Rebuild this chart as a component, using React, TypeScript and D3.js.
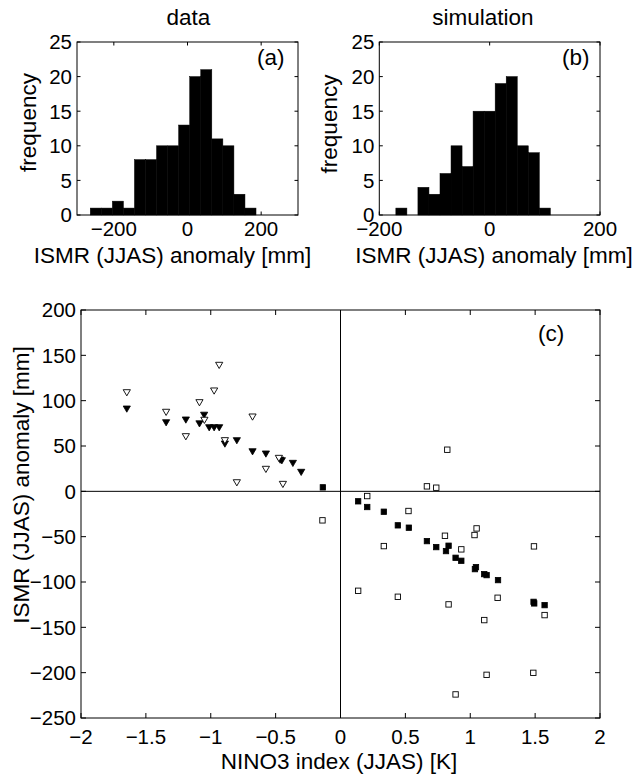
import React from "react";
import * as d3 from "d3";

// ---------- data ----------
// histogram (a): observed ISMR anomalies
const histAStart = -264;
const histAWidth = 30;
const histACounts = [1, 1, 2, 1, 8, 8, 10, 10, 13, 20, 21, 11, 10, 3, 1];
// histogram (b): simulated ISMR anomalies
const histBStart = -170;
const histBWidth = 20;
const histBCounts = [1, 0, 4, 3, 6, 10, 7, 15, 15, 19, 20, 10, 9, 1];

const histYTicks = [0, 5, 10, 15, 20, 25];
const histXTicks = [-200, 0, 200];
const scatterXTicks = [-2, -1.5, -1, -0.5, 0, 0.5, 1, 1.5, 2];
const scatterYTicks = [-250, -200, -150, -100, -50, 0, 50, 100, 150, 200];

// La Nina years (triangles)
const triFilledX = [-1.647, -1.344, -1.192, -1.087, -1.051, -1.012, -0.974, -0.935, -0.891, -0.799, -0.678, -0.575, -0.465, -0.452, -0.367, -0.303];
const triFilledY = [90.8, 75.7, 78.7, 74.5, 84, 70.2, 70.2, 70.2, 52.2, 55.9, 43.7, 41.2, 34.5, 33.8, 30.9, 21];
const triOpenX = [-1.647, -1.344, -1.192, -1.087, -1.049, -0.974, -0.935, -0.891, -0.678, -0.799, -0.575, -0.475, -0.444];
const triOpenY = [108.8, 87.2, 60.3, 97.8, 78.4, 110.7, 139, 55.9, 82, 9.5, 24.3, 36.4, 7.7];

// El Nino years (squares)
const sqFilledX = [-0.136, 0.136, 0.206, 0.334, 0.442, 0.527, 0.666, 0.738, 0.833, 0.813, 0.887, 0.931, 1.044, 1.036, 1.108, 1.126, 1.214, 1.488, 1.493, 1.573];
const sqFilledY = [4.4, -11, -17.3, -22.5, -37.5, -40.1, -54.9, -61.5, -60, -65.9, -73.3, -76.6, -83.6, -85.8, -91.3, -92.4, -97.9, -121.9, -123.6, -125.5];
const sqOpenX = [0.823, 0.666, 0.738, 0.206, 0.524, -0.139, 1.049, 1.033, 0.805, 0.931, 0.334, 1.491, 0.136, 0.442, 0.833, 1.211, 1.573, 1.108, 1.126, 1.486, 0.887];
const sqOpenY = [45.9, 5.5, 4, -5.2, -21.7, -32, -40.9, -48.2, -49, -64, -60.4, -60.7, -109.7, -116.3, -124.7, -117.4, -136.5, -142, -202.4, -200.2, -224];

const FONT = "'Liberation Sans', Arial, Helvetica, sans-serif";
const TICK_FS = 20.5;
const LABEL_FS = 22.5;

const fmt = (v: number) => String(v).replace("-", "\u2212");

type HistProps = {
  x0: number; x1: number; y0: number; y1: number;
  domain: [number, number];
  start: number; width: number; counts: number[];
  title: string; titleX: number; tag: string; tagX: number;
  xlabelX: number; ylabelX: number; ylabelY: number;
};

function Hist(p: HistProps) {
  const x = d3.scaleLinear().domain(p.domain).range([p.x0, p.x1]);
  const y = d3.scaleLinear().domain([0, 25]).range([p.y1, p.y0]);
  const tl = 3.5;
  return (
    <g>
      {p.counts.map((c, i) => {
        const a = p.start + i * p.width;
        const b = a + p.width;
        if (c === 0) return null;
        return (
          <rect key={i} x={x(a)} y={y(c)} width={x(b) - x(a)} height={y(0) - y(c)} fill="#000" stroke="#000" strokeWidth={0.5} />
        );
      })}
      <rect x={p.x0} y={p.y0} width={p.x1 - p.x0} height={p.y1 - p.y0} fill="none" stroke="#000" strokeWidth={1} />
      {histYTicks.map((t) => (
        <g key={"y" + t}>
          <line x1={p.x0} x2={p.x0 + tl} y1={y(t)} y2={y(t)} stroke="#000" />
          <line x1={p.x1} x2={p.x1 - tl} y1={y(t)} y2={y(t)} stroke="#000" />
          <text x={p.x0 - 5} y={y(t)} dy="0.36em" textAnchor="end" fontSize={TICK_FS} fontFamily={FONT}>{fmt(t)}</text>
        </g>
      ))}
      {histXTicks.map((t) => (
        <g key={"x" + t}>
          <line x1={x(t)} x2={x(t)} y1={p.y1} y2={p.y1 - tl} stroke="#000" />
          <line x1={x(t)} x2={x(t)} y1={p.y0} y2={p.y0 + tl} stroke="#000" />
          <text x={x(t)} y={p.y1 + 21} textAnchor="middle" fontSize={TICK_FS} fontFamily={FONT}>{fmt(t)}</text>
        </g>
      ))}
      <text x={p.titleX} y={25} textAnchor="middle" fontSize={LABEL_FS} fontFamily={FONT}>{p.title}</text>
      <text x={p.tagX} y={65} fontSize={LABEL_FS} fontFamily={FONT}>{p.tag}</text>
      <text x={p.xlabelX} y={263} textAnchor="middle" fontSize={LABEL_FS} fontFamily={FONT}>ISMR (JJAS) anomaly [mm]</text>
      <text transform={`translate(${p.ylabelX},${p.ylabelY}) rotate(-90)`} textAnchor="middle" fontSize={LABEL_FS} fontFamily={FONT}>frequency</text>
    </g>
  );
}

function Scatter() {
  const x0 = 81, x1 = 600, y0 = 310, y1 = 718;
  const x = d3.scaleLinear().domain([-2, 2]).range([x0, x1]);
  const y = d3.scaleLinear().domain([-250, 200]).range([y1, y0]);
  const tl = 5;
  const tri = (cx: number, cy: number) => `M${cx - 3.6},${cy - 3}L${cx + 3.6},${cy - 3}L${cx},${cy + 3.2}Z`;
  const sq = 5.4;
  return (
    <g>
      <line x1={x(0)} x2={x(0)} y1={y0} y2={y1} stroke="#000" strokeWidth={1} />
      <line x1={x0} x2={x1} y1={y(0)} y2={y(0)} stroke="#000" strokeWidth={1} />
      <rect x={x0} y={y0} width={x1 - x0} height={y1 - y0} fill="none" stroke="#000" strokeWidth={1} />
      {scatterXTicks.map((t) => (
        <g key={"x" + t}>
          <line x1={x(t)} x2={x(t)} y1={y1} y2={y1 - tl} stroke="#000" />
          <line x1={x(t)} x2={x(t)} y1={y0} y2={y0 + tl} stroke="#000" />
          <text x={x(t)} y={y1 + 26} textAnchor="middle" fontSize={TICK_FS} fontFamily={FONT}>{fmt(t)}</text>
        </g>
      ))}
      {scatterYTicks.map((t) => (
        <g key={"y" + t}>
          <line x1={x0} x2={x0 + tl} y1={y(t)} y2={y(t)} stroke="#000" />
          <line x1={x1} x2={x1 - tl} y1={y(t)} y2={y(t)} stroke="#000" />
          <text x={x0 - 5} y={y(t)} dy="0.36em" textAnchor="end" fontSize={TICK_FS} fontFamily={FONT}>{fmt(t)}</text>
        </g>
      ))}
      {triFilledX.map((v, i) => (
        <path key={"tf" + i} d={tri(x(v), y(triFilledY[i]))} fill="#000" stroke="#000" strokeWidth={0.8} />
      ))}
      {triOpenX.map((v, i) => (
        <path key={"to" + i} d={tri(x(v), y(triOpenY[i]))} fill="#fff" stroke="#000" strokeWidth={0.9} />
      ))}
      {sqFilledX.map((v, i) => (
        <rect key={"sf" + i} x={x(v) - sq / 2} y={y(sqFilledY[i]) - sq / 2} width={sq} height={sq} fill="#000" stroke="#000" strokeWidth={0.8} />
      ))}
      {sqOpenX.map((v, i) => (
        <rect key={"so" + i} x={x(v) - sq / 2} y={y(sqOpenY[i]) - sq / 2} width={sq} height={sq} fill="#fff" stroke="#000" strokeWidth={0.9} />
      ))}
      <text x={538} y={341} fontSize={LABEL_FS} fontFamily={FONT}>(c)</text>
      <text x={339} y={769} textAnchor="middle" fontSize={LABEL_FS} fontFamily={FONT}>NINO3 index (JJAS) [K]</text>
      <text transform={`translate(29,485) rotate(-90)`} textAnchor="middle" fontSize={LABEL_FS} fontFamily={FONT}>ISMR (JJAS) anomaly [mm]</text>
    </g>
  );
}

export default function App() {
  return (
    <svg width={632} height={776} style={{ position: "absolute", left: 0, top: 0, background: "#fff" }}>
      <rect width={632} height={776} fill="#fff" />
      <Hist x0={77} x1={298} y0={42} y1={215} domain={[-300, 300]} start={histAStart} width={histAWidth} counts={histACounts}
        title="data" titleX={188.5} tag="(a)" tagX={257} xlabelX={172.5} ylabelX={36} ylabelY={122.5} />
      <Hist x0={379.3} x1={600} y0={42} y1={215} domain={[-200, 200]} start={histBStart} width={histBWidth} counts={histBCounts}
        title="simulation" titleX={483} tag="(b)" tagX={562} xlabelX={494} ylabelX={337} ylabelY={124} />
      <Scatter />
    </svg>
  );
}
